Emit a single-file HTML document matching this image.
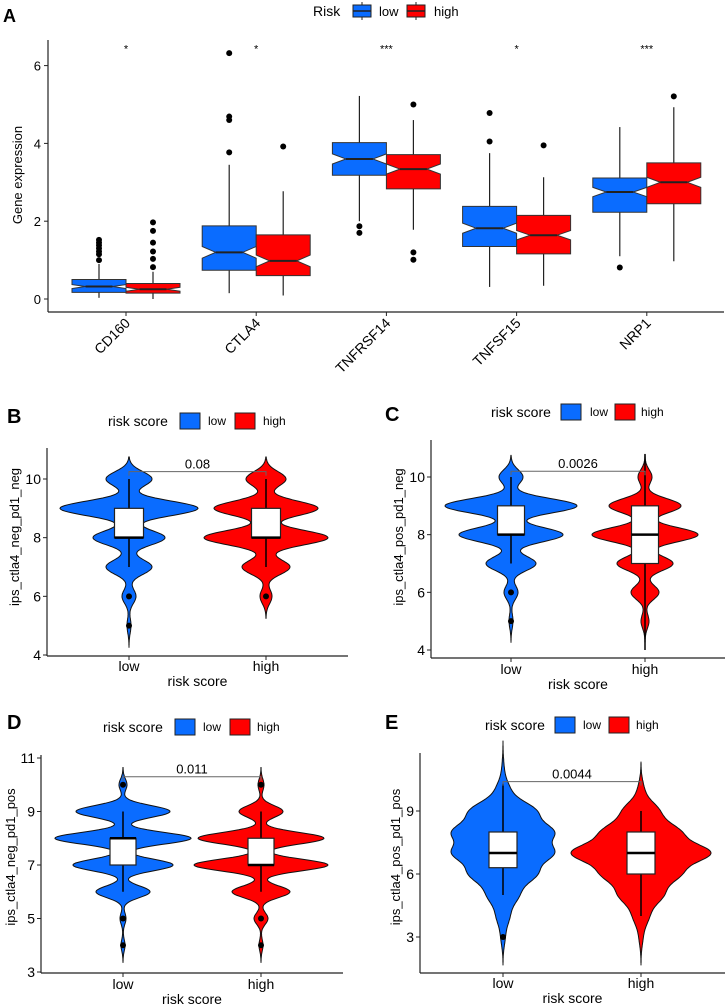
<!DOCTYPE html>
<html><head><meta charset="utf-8"><style>
html,body{margin:0;padding:0;background:#fff}
svg{display:block;font-family:"Liberation Sans",Arial,sans-serif}
</style></head><body>
<svg id="fig" width="726" height="1007" viewBox="0 0 726 1007" xmlns="http://www.w3.org/2000/svg"></svg>
<script>
// ---------- Panel A data ----------
const genes = ["CD160","CTLA4","TNFRSF14","TNFSF15","NRP1"];
const sigLabels = ["*","*","***","*","***"];
const lowQ1 = [0.17,0.74,3.18,1.35,2.23];
const lowMed = [0.32,1.2,3.6,1.82,2.75];
const lowQ3 = [0.5,1.88,4.02,2.38,3.11];
const lowWhLo = [0.03,0.15,2.0,0.31,1.1];
const lowWhHi = [0.9,3.45,5.22,3.75,4.42];
const lowNotch = [0.05,0.15,0.13,0.13,0.12];
const lowOut = [[1.0,1.15,1.22,1.3,1.38,1.45,1.52],[3.77,4.6,4.69,6.32],[1.87,1.7],[4.05,4.78],[0.81]];
const highQ1 = [0.15,0.6,2.83,1.16,2.45];
const highMed = [0.25,0.98,3.34,1.64,3.0];
const highQ3 = [0.4,1.65,3.71,2.15,3.5];
const highWhLo = [0.0,0.09,1.78,0.34,0.97];
const highWhHi = [0.7,2.77,4.6,3.13,4.93];
const highNotch = [0.05,0.15,0.13,0.12,0.13];
const highOut = [[0.82,1.03,1.22,1.45,1.75,1.97],[3.92],[5.0,1.2,1.01],[3.95],[5.21]];
const yTicksA = [0,2,4,6];

// ---------- Violin panels data ----------
const groups = ["low","high"];
const levels = [3,4,5,6,7,8,9,10,11];
// B
const bLowCounts = [0,0,2,7,23,36,69,23,0];
const bHighCounts = [0,0,0,6,24,62,52,20,0];
const bLowBox = [7,8,8,9,10];   // whLo,Q1,med,Q3,whHi
const bHighBox = [7,8,8,9,10];
const bLowOut = [6,5];
const bHighOut = [6];
const bTicks = [4,6,8,10];
// C
const cLowCounts = [0,0,2,7,25,52,66,12,0];
const cHighCounts = [0,0,4,14,28,53,36,7,0];
const cLowBox = [7,8,8,9,10];
const cHighBox = [4,7,8,9,10.8];
const cLowOut = [6,5];
const cHighOut = [];
const cTicks = [4,6,8,10];
// D
const dLowCounts = [0,2,3,27,50,68,47,4,0];
const dHighCounts = [0,2,7,29,67,63,22,3,0];
const dLowBox = [6,7,8,8,9];
const dHighBox = [6,7,7,8,9];
const dLowOut = [10,5,4];
const dHighOut = [10,5,4];
const dTicks = [3,5,7,9,11];
// E
const eLowCounts = [2,6,14,30,45,45,30,6,1];
const eHighCounts = [2,8,22,38,70,38,18,3,0];
const eLowBox = [5,6.3,7,8,10.3];
const eHighBox = [4,6,7,8,9];
const eLowOut = [3];
const eHighOut = [];
const eTicks = [3,6,9];

const NS="http://www.w3.org/2000/svg";
const svg=document.getElementById('fig');
function mk(tag,attrs,parent,text){const e=document.createElementNS(NS,tag);for(const k in attrs)e.setAttribute(k,attrs[k]);if(text!==undefined)e.textContent=text;(parent||svg).appendChild(e);return e;}

// ================= Panel A =================
(function(){
  const g=mk('g',{});
  
  
  const y0px=299, perUnit=38.9, ax=48, ab=312;
  const y=v=>y0px-v*perUnit;
  const cx=i=>126+i*130.2;
  const t=mk('text',{x:3,y:22,'font-size':18,'font-weight':'bold'},g,'A');
  
  // legend
  const lg=mk('g',{},g);
  
  mk('text',{x:313,y:16,'font-size':14},lg,'Risk');
  [['#0a6cff','low',353,379],['#ff0000','high',407,434]].forEach(([c,l,kx,tx])=>{
    const e=mk('g',{},lg);
    
    mk('line',{x1:kx+9,y1:2,x2:kx+9,y2:20,stroke:'#222','stroke-width':1},e);
    mk('rect',{x:kx,y:5,width:18,height:12,fill:c,stroke:'#222','stroke-width':1},e);
    mk('line',{x1:kx,y1:11,x2:kx+18,y2:11,stroke:'#222','stroke-width':1.5},e);
    mk('text',{x:tx,y:16,'font-size':13},e,l);
  });
  // axes
  const axl=mk('line',{x1:ax,y1:40,x2:ax,y2:ab,stroke:'#222','stroke-width':1.2},g);
  
  const axb=mk('line',{x1:ax,y1:ab,x2:724,y2:ab,stroke:'#222','stroke-width':1.2},g);
  
  yTicksA.forEach(v=>{
    mk('line',{x1:ax-4,y1:y(v),x2:ax,y2:y(v),stroke:'#222'},g);
    const tl=mk('text',{x:ax-7,y:y(v)+5,'font-size':13,'text-anchor':'end'},g,String(v));
    
  });
  const yt=mk('text',{x:0,y:0,'font-size':13,'text-anchor':'middle',transform:'translate(22,175) rotate(-90)'},g,'Gene expression');
  
  const W=54;
  function box(c,q1,md,q3,wl,wh,n,outs,fill,name){
    const bg=mk('g',{},g);
    
    mk('line',{x1:c,y1:y(wh),x2:c,y2:y(q3),stroke:'#222','stroke-width':1.2},bg);
    mk('line',{x1:c,y1:y(q1),x2:c,y2:y(wl),stroke:'#222','stroke-width':1.2},bg);
    const x0=c-W/2,x1=c+W/2,ind=W*0.25;
    const pts=[[x0,y(q3)],[x1,y(q3)],[x1,y(md+n)],[x1-ind,y(md)],[x1,y(md-n)],[x1,y(q1)],[x0,y(q1)],[x0,y(md-n)],[x0+ind,y(md)],[x0,y(md+n)]];
    mk('polygon',{points:pts.map(p=>p.join(',')).join(' '),fill:fill,stroke:'#333','stroke-width':1},bg);
    mk('line',{x1:x0+ind,y1:y(md),x2:x1-ind,y2:y(md),stroke:'#222','stroke-width':2},bg);
    outs.forEach(o=>{const d=mk('circle',{cx:c,cy:y(o),r:3,fill:'#000'},bg);
      });
  }
  genes.forEach((gn,i)=>{
    const c=cx(i);
    box(c-W/2,lowQ1[i],lowMed[i],lowQ3[i],lowWhLo[i],lowWhHi[i],lowNotch[i],lowOut[i],'#0a6cff','box-'+gn.toLowerCase()+'-low');
    box(c+W/2,highQ1[i],highMed[i],highQ3[i],highWhLo[i],highWhHi[i],highNotch[i],highOut[i],'#ff0000','box-'+gn.toLowerCase()+'-high');
    mk('line',{x1:c,y1:ab,x2:c,y2:ab+4,stroke:'#222'},g);
    const xl=mk('text',{x:0,y:0,'font-size':14,'text-anchor':'end',transform:`translate(${c+5},${ab+12}) rotate(-45)`},g,gn);
    
    const s=mk('text',{x:c,y:y(6.49)+6,'font-size':11,'text-anchor':'middle'},g,sigLabels[i]);
    
  });
})();

// ================= Violin panels =================
function violinPanel(cfg){
  const g=mk('g',{});
  
  
  const y=v=>cfg.yA+(v-cfg.vA)*(cfg.yB-cfg.yA)/(cfg.vB-cfg.vA);
  const xs=[cfg.xLow,cfg.xHigh];
  const pl=mk('text',{x:cfg.letterX,y:cfg.letterY,'font-size':20,'font-weight':'bold'},g,cfg.id.toUpperCase());
  
  // legend
  const lg=mk('g',{},g);
  
  mk('text',{x:cfg.leg[0],y:cfg.legY+5,'font-size':14},lg,'risk score');
  [['#0a6cff','low',cfg.leg[1],cfg.leg[2]],['#ff0000','high',cfg.leg[3],cfg.leg[4]]].forEach(([c,l,kx,tx])=>{
    const e=mk('g',{},lg);
    
    mk('rect',{x:kx,y:cfg.legY-8,width:20,height:16,fill:c,stroke:'#222','stroke-width':1},e);
    mk('text',{x:tx,y:cfg.legY+4,'font-size':12},e,l);
  });
  // axes
  const al=mk('line',{x1:cfg.ax,y1:cfg.axTop,x2:cfg.ax,y2:cfg.ab,stroke:'#222','stroke-width':1.2},g);
  
  const bl=mk('line',{x1:cfg.ax,y1:cfg.ab,x2:cfg.axRight,y2:cfg.ab,stroke:'#222','stroke-width':1.2},g);
  
  cfg.ticks.forEach(v=>{
    mk('line',{x1:cfg.ax-4,y1:y(v),x2:cfg.ax,y2:y(v),stroke:'#222'},g);
    const tl=mk('text',{x:cfg.ax-6,y:y(v)+5,'font-size':14,'text-anchor':'end'},g,String(v));
    
  });
  const yt=mk('text',{x:0,y:0,'font-size':13,'text-anchor':'middle',transform:`translate(${cfg.ytX},${cfg.ytY}) rotate(-90)`},g,cfg.ytitle);
  
  const xt=mk('text',{x:(cfg.ax+cfg.axRight)/2,y:cfg.xtY,'font-size':14,'text-anchor':'middle'},g,'risk score');
  
  const fills=['#0a6cff','#ff0000'];
  [0,1].forEach(gi=>{
    const cx=xs[gi], counts=cfg.counts[gi], bx=cfg.boxes[gi];
    mk('line',{x1:cx,y1:cfg.ab,x2:cx,y2:cfg.ab+4,stroke:'#222'},g);
    const xl=mk('text',{x:cx,y:cfg.tickY,'font-size':14,'text-anchor':'middle'},g,groups[gi]);
    
    // KDE
    let lo=Infinity,hi=-Infinity;
    levels.forEach((l,k)=>{if(counts[k]>0){lo=Math.min(lo,l);hi=Math.max(hi,l);}});
    const bw=cfg.bw, a=lo-3*bw, b=hi+3*bw, N=200;
    const dens=[];let mx=0;
    for(let s=0;s<=N;s++){const v=a+(b-a)*s/N;let d=0;
      levels.forEach((l,k)=>{d+=counts[k]*Math.exp(-((v-l)**2)/(2*bw*bw));});
      dens.push([v,d]);mx=Math.max(mx,d);}
    const hw=cfg.maxHalf[gi];
    let p='';
    dens.forEach(([v,d],s)=>{p+=(s?'L':'M')+(cx+d/mx*hw).toFixed(1)+','+y(v).toFixed(1);});
    for(let s=dens.length-1;s>=0;s--){const [v,d]=dens[s];p+='L'+(cx-d/mx*hw).toFixed(1)+','+y(v).toFixed(1);}
    const vp=mk('path',{d:p+'Z',fill:fills[gi],stroke:'#111','stroke-width':1},g);
    
    // box
    const bg=mk('g',{},g);
    
    mk('line',{x1:cx,y1:y(bx[4]),x2:cx,y2:y(bx[3]),stroke:'#000','stroke-width':1.5},bg);
    mk('line',{x1:cx,y1:y(bx[1]),x2:cx,y2:y(bx[0]),stroke:'#000','stroke-width':1.5},bg);
    const bwPx=cfg.boxW;
    mk('rect',{x:cx-bwPx/2,y:y(bx[3]),width:bwPx,height:y(bx[1])-y(bx[3]),fill:'#fff',stroke:'#222','stroke-width':1.2},bg);
    mk('line',{x1:cx-bwPx/2,y1:y(bx[2]),x2:cx+bwPx/2,y2:y(bx[2]),stroke:'#000','stroke-width':2.5},bg);
    cfg.outs[gi].forEach(o=>{const d=mk('circle',{cx:cx,cy:y(o),r:3,fill:'#000'},bg);
      });
  });
  // bracket
  const br=mk('g',{},g);
  
  const by=y(cfg.brV);
  mk('path',{d:`M${xs[0]},${by+4}V${by}H${xs[1]}V${by+4}`,fill:'none',stroke:'#666','stroke-width':1},br);
  mk('text',{x:(xs[0]+xs[1])/2,y:by-3,'font-size':13,'text-anchor':'middle'},br,cfg.pval);
}

violinPanel({id:'b',yA:655,vA:4,yB:479,vB:10,xLow:129,xHigh:266,ax:47,ab:656,axTop:448,axRight:348,
  ticks:bTicks,counts:[bLowCounts,bHighCounts],boxes:[bLowBox,bHighBox],outs:[bLowOut,bHighOut],
  bw:0.25,maxHalf:[69,62],boxW:29,brV:10.25,pval:'0.08',ytitle:'ips_ctla4_neg_pd1_neg',ytX:19,ytY:537,
  xtY:686,tickY:671,letterX:7,letterY:423,legY:421,leg:[108,180,208,235,263]});
violinPanel({id:'c',yA:650,vA:4,yB:477,vB:10,xLow:511,xHigh:645,ax:431,ab:658,axTop:440,axRight:725,
  ticks:cTicks,counts:[cLowCounts,cHighCounts],boxes:[cLowBox,cHighBox],outs:[cLowOut,cHighOut],
  bw:0.25,maxHalf:[66,53],boxW:27,brV:10.2,pval:'0.0026',ytitle:'ips_ctla4_pos_pd1_neg',ytX:403,ytY:537,
  xtY:689,tickY:674,letterX:385,letterY:421,legY:412,leg:[491,561,590,615,641]});
violinPanel({id:'d',yA:972,vA:3,yB:758,vB:11,xLow:123,xHigh:261,ax:41,ab:973,axTop:755,axRight:343,
  ticks:dTicks,counts:[dLowCounts,dHighCounts],boxes:[dLowBox,dHighBox],outs:[dLowOut,dHighOut],
  bw:0.22,maxHalf:[68,67],boxW:26,brV:10.3,pval:'0.011',ytitle:'ips_ctla4_neg_pd1_pos',ytX:15,ytY:857,
  xtY:1004,tickY:989,letterX:7,letterY:729,legY:727,leg:[103,175,203,230,257]});
violinPanel({id:'e',yA:937,vA:3,yB:811,vB:9,xLow:503,xHigh:641,ax:420,ab:973,axTop:753,axRight:725,
  ticks:eTicks,counts:[eLowCounts,eHighCounts],boxes:[eLowBox,eHighBox],outs:[eLowOut,eHighOut],
  bw:0.45,maxHalf:[52,70],boxW:28,brV:10.4,pval:'0.0044',ytitle:'ips_ctla4_pos_pd1_pos',ytX:400,ytY:857,
  xtY:1003,tickY:988,letterX:385,letterY:729,legY:725,leg:[485,555,583,609,636]});
</script>
</body></html>
